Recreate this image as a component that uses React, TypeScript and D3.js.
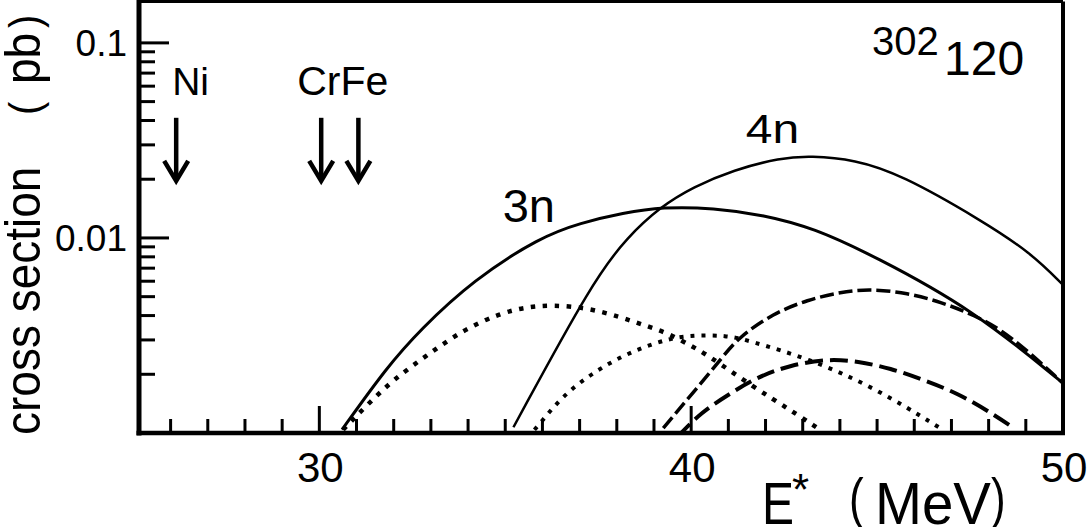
import React from 'react';
import * as d3 from 'd3';

const width = 1087;
const height = 527;

// excitation energy E* (MeV), cross section (pb)
const solid3n = [
  [30.61, 0.00104], [31.82, 0.00218], [32.71, 0.00338], [34.14, 0.00609],
  [35.94, 0.0101], [37.02, 0.01194], [38.18, 0.01344], [39.23, 0.01442],
  [40.6, 0.01425], [41.95, 0.01312], [43.29, 0.01125], [44.91, 0.0081],
  [47.6, 0.00427], [50.0, 0.0018],
];
const solid4n = [
  [35.22, 0.00107], [37.37, 0.00609], [38.29, 0.01012], [39.17, 0.01442],
  [40.06, 0.01826], [41.14, 0.02233], [42.4, 0.02572], [43.21, 0.02634],
  [44.4, 0.0252], [45.63, 0.0212], [47.79, 0.01237], [49.14, 0.00838],
  [50.0, 0.00574],
];
const dotted3n = [
  [30.64, 0.00104], [31.28, 0.00139], [31.98, 0.00187], [32.9, 0.00251],
  [33.87, 0.00338], [34.87, 0.00412], [35.59, 0.00443], [36.29, 0.00453],
  [37.21, 0.00438], [38.1, 0.00393], [38.72, 0.00358], [39.36, 0.00326],
  [40.06, 0.00276], [40.44, 0.00251], [41.68, 0.00172], [42.67, 0.00131],
  [43.4, 0.00106],
];
const dotted4n = [
  [35.59, 0.000943], [35.94, 0.00112], [36.29, 0.00136], [36.83, 0.00172],
  [37.48, 0.0021], [38.1, 0.00245], [38.72, 0.00276], [39.36, 0.00302],
  [39.9, 0.00316], [40.98, 0.00318], [41.6, 0.00295], [43.13, 0.00242],
  [44.91, 0.00172], [46.66, 0.00107],
];
const dashed3n = [
  [39.63, 0.000954], [40.25, 0.00127], [41.06, 0.0016], [41.79, 0.00194],
  [42.67, 0.00223], [43.67, 0.0024], [44.48, 0.00233], [45.36, 0.00215],
  [46.25, 0.00187], [47.17, 0.0016], [48.06, 0.00127], [48.68, 0.00106],
];
const dashed4n = [
  [39.25, 0.00106], [40.79, 0.00237], [41.25, 0.00307], [42.22, 0.00412],
  [43.13, 0.00481], [44.02, 0.00529], [44.83, 0.00548], [45.82, 0.00522],
  [46.71, 0.0047], [47.6, 0.00403], [48.52, 0.00326], [50.0, 0.0018],
];

const xMajorTicks = [30, 40, 50];
const xMinorTicks = d3.range(26, 50);
const yMajorTicks = [0.01, 0.1];
const yTickLabels = ['0.01', '0.1'];

// projectile arrows: name, E*
const beamNames = ['Ni', 'Cr', 'Fe'];
const beamEnergies = [26.15, 30.05, 31.05];

const xDomain = [25.15, 50];
const yDomain = [0.001, 0.163];
const plot = { left: 139, right: 1063, top: 1.5, bottom: 433 };

const App = () => {
  const x = d3.scaleLinear().domain(xDomain).range([plot.left, plot.right]);
  const y = d3.scaleLog().domain(yDomain).range([plot.bottom, plot.top]);
  const line = d3.line<number[]>()
    .x(d => x(d[0]))
    .y(d => y(d[1]))
    .curve(d3.curveBasis);

  const series = [
    { data: solid3n, width: 3, dash: null },
    { data: solid4n, width: 2.5, dash: null },
    { data: dotted3n, width: 4.5, dash: '4.5 7.5' },
    { data: dotted4n, width: 4, dash: '4 7' },
    { data: dashed3n, width: 4, dash: '18 7' },
    { data: dashed4n, width: 3.5, dash: '14 5' },
  ];

  const yMinor = y.ticks().filter(t => Math.abs(Math.log10(t) - Math.round(Math.log10(t))) > 1e-6);
  const font = "'Liberation Sans', Arial, sans-serif";

  const arrowTop = y(0.0413);
  const arrowTip = y(0.0194);

  return (
    <svg width={width} height={height}
         style={{ position: 'absolute', left: 0, top: 0, background: '#fff' }}
         fontFamily={font}>
      <defs>
        <clipPath id="plotClip">
          <rect x={plot.left} y={plot.top} width={plot.right - plot.left} height={plot.bottom - plot.top} />
        </clipPath>
      </defs>

      <g clipPath="url(#plotClip)" fill="none" stroke="#000">
        {series.map((s, i) => (
          <path key={i} d={line(s.data) || ''} strokeWidth={s.width}
                strokeDasharray={s.dash || undefined} strokeLinejoin="round" />
        ))}
      </g>

      {/* frame */}
      <g stroke="#000" fill="none">
        <line x1={plot.left} x2={plot.right} y1={plot.top} y2={plot.top} strokeWidth={3} />
        <line x1={plot.right} x2={plot.right} y1={plot.top} y2={plot.bottom} strokeWidth={4} />
        <line x1={plot.left} x2={plot.left} y1={0} y2={plot.bottom + 2.5} strokeWidth={5} />
        <line x1={plot.left - 2.5} x2={plot.right + 2} y1={plot.bottom} y2={plot.bottom} strokeWidth={4.5} />
      </g>

      {/* x ticks */}
      <g stroke="#000" strokeWidth={3}>
        {xMinorTicks.filter(t => !xMajorTicks.includes(t)).map(t => (
          <line key={t} x1={x(t)} x2={x(t)} y1={plot.bottom} y2={plot.bottom - 14} />
        ))}
        {xMajorTicks.map(t => (
          <line key={t} x1={x(t)} x2={x(t)} y1={plot.bottom} y2={plot.bottom - 27} />
        ))}
      </g>
      <g fontSize={42} textAnchor="middle">
        {xMajorTicks.map(t => (
          <text key={t} x={x(t) + 1} y={482}>{t}</text>
        ))}
      </g>

      {/* y ticks */}
      <g stroke="#000" strokeWidth={3}>
        {yMinor.map(t => (
          <line key={t} x1={plot.left} x2={plot.left + 16} y1={y(t)} y2={y(t)} />
        ))}
        {yMajorTicks.map(t => (
          <line key={t} x1={plot.left} x2={plot.left + 30} y1={y(t)} y2={y(t)} />
        ))}
      </g>
      <g fontSize={37} textAnchor="end">
        {yMajorTicks.map((t, i) => (
          <text key={t} x={127} y={y(t) + 13}>{yTickLabels[i]}</text>
        ))}
      </g>

      {/* beam arrows */}
      <g stroke="#000" strokeWidth={4.5} fill="none">
        {beamEnergies.map((e, i) => (
          <g key={beamNames[i]}>
            <line x1={x(e)} x2={x(e)} y1={arrowTop} y2={arrowTip - 2} />
            <polyline points={`${x(e) - 12},${arrowTip - 21} ${x(e)},${arrowTip - 1} ${x(e) + 12},${arrowTip - 21}`} />
          </g>
        ))}
      </g>
      <text x={x(beamEnergies[0]) - 4} y={95} fontSize={39}>{beamNames[0]}</text>
      <text x={x(beamEnergies[1]) - 24} y={95} fontSize={41}>{beamNames[1] + beamNames[2]}</text>

      {/* curve labels */}
      <text x={x(34.93)} y={y(0.0121)} fontSize={47}>3n</text>
      <text transform={`translate(${x(41.47)},${y(0.0307)}) scale(1,0.83)`} fontSize={48}>4n</text>

      {/* nucleus */}
      <text x={872} y={55} fontSize={40}>302</text>
      <text x={944} y={75} fontSize={48}>120</text>

      {/* y axis title */}
      <g transform="translate(40,435) rotate(-90) scale(1,1.1)" fontSize={46}>
        <text x={0} y={0}>cross section</text>
        <text x={320} y={0} fontSize={40}>(</text>
        <text x={351} y={0}>pb</text>
        <text x={407} y={0} fontSize={40}>)</text>
      </g>

      {/* x axis title */}
      <g transform="translate(0,524) scale(1,1.25)" fontSize={48}>
        <text x={762} y={0}>E</text>
        <text x={849} y={-6} fontSize={44}>(</text>
        <text x={875} y={0} textLength={116} lengthAdjust="spacingAndGlyphs">MeV</text>
        <text x={991} y={-6} fontSize={44}>)</text>
      </g>
      <text x={792} y={505} fontSize={44}>*</text>
    </svg>
  );
};

export default App;
